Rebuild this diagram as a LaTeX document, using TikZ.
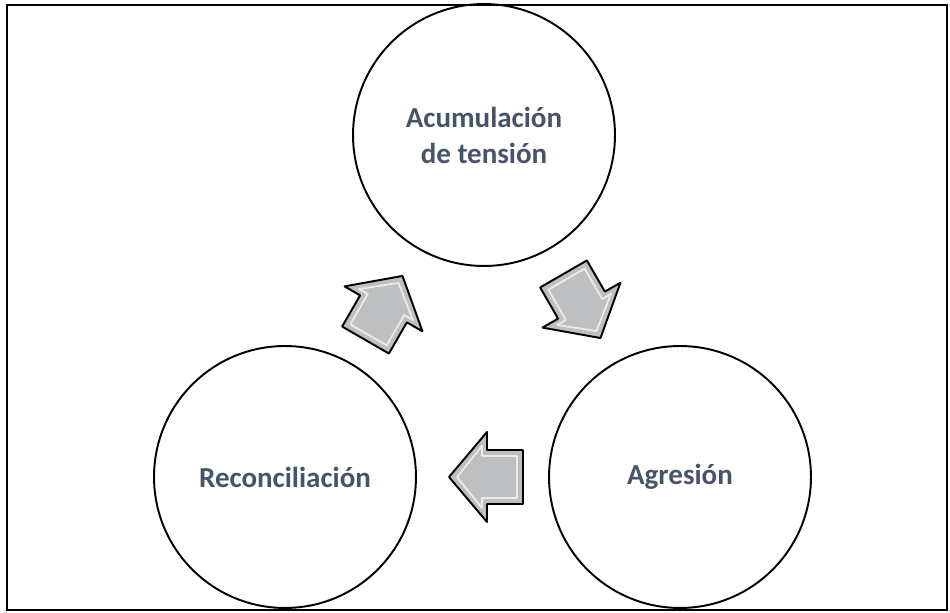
\documentclass[tikz,border=0pt]{standalone}
\usepackage{fontspec}
\setmainfont{Carlito}
\usepackage{tikz}
\definecolor{textociclo}{RGB}{68,84,106}
\definecolor{grisflecha}{RGB}{190,191,193}
\tikzstyle{circulo} = [draw=black, line width=1.1pt, circle, minimum size=5.24cm, inner sep=0pt, align=center, text=textociclo, font=\fontsize{16.5}{20.5}\selectfont\bfseries]
\tikzstyle{flecha} = [draw=black, line width=1.1pt, line join=round, fill=grisflecha]
\tikzstyle{brillo} = [draw=white, line width=1pt, line join=round, opacity=0.7]

\begin{document}
\begin{tikzpicture}[x=0.02cm, y=0.02cm]
\useasboundingbox (0,0) rectangle (950,612);
\draw[line width=1.1pt] (7,2) rectangle (947,607);

\node[circulo] (tension) at (484,477) {Acumulación\\de tensión};
\node[circulo] (agresion) at (680,135) {Agresión};
\node[circulo] (reconciliacion) at (285,135) {Reconciliación};

% flechas del ciclo
\coordinate (f1) at (384,304);
\coordinate (f2) at (582,306);
\coordinate (f3) at (486,135);
\foreach \f/\ang in {f1/60, f2/-60, f3/180}{
  \begin{scope}[shift={(\f)}, rotate=\ang]
    \draw[flecha] (37,0) -- (-1,45) -- (-1,27) -- (-37,27) -- (-37,-27) -- (-1,-27) -- (-1,-45) -- cycle;
    \draw[brillo] (29,0) -- (4,31) -- (4,21) -- (-31,21) -- (-31,-21) -- (4,-21) -- (4,-31) -- cycle;
  \end{scope}
}
\end{tikzpicture}
\end{document}
